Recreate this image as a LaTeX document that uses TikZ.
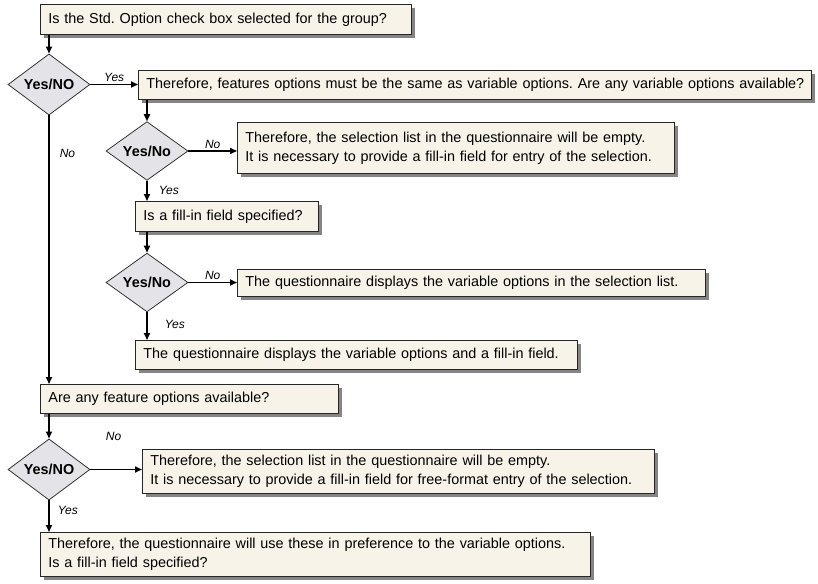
\documentclass[tikz,border=0pt]{standalone}
\usepackage{fontspec}
\setmainfont{Liberation Sans}
\frenchspacing
\usetikzlibrary{shapes,shadows,arrows.meta}

\definecolor{notecream}{HTML}{F7F3E8}
\definecolor{askgray}{HTML}{E4E4E8}
\definecolor{shadowgray}{HTML}{858585}

\begin{document}
\begin{tikzpicture}[x=1pt,y=1pt,
  stepbox/.style={shape=rectangle,draw=black!85,fill=notecream,line width=0.8pt,
    anchor=north west,align=left,inner xsep=8pt,inner ysep=0pt,
    font=\fontsize{14.4}{19}\selectfont,
    drop shadow={shadow xshift=3.5pt,shadow yshift=-3.5pt,fill=shadowgray,opacity=1}},
  ask/.style={shape=diamond,draw=black!80,fill=askgray,line width=0.8pt,
    inner sep=0pt,minimum width=82pt,minimum height=47pt,
    font=\bfseries\fontsize{14.4}{16}\selectfont},
  arr/.style={-{Triangle[length=7pt,width=6pt]},draw=black,line width=1.6pt},
  lbl/.style={font=\itshape\fontsize{12}{14}\selectfont,inner sep=2pt}]
\useasboundingbox (0,0) rectangle (818,-583);

\node[stepbox,text width=355pt,minimum height=30pt] (0) at (40,-4) {Is the Std. Option check box selected for the group?};
\node[ask] (1) at (49,-84.5) {Yes/NO};
\node[stepbox,text width=657pt,minimum height=29pt] (2) at (138,-70) {\mbox{Therefore, features options must be the same as variable options. Are any variable options available?}};
\node[ask] (3) at (147,-151) {Yes/No};
\node[stepbox,text width=421pt,minimum height=51pt] (4) at (237,-122) {Therefore, the selection list in the questionnaire will be empty.\\It is necessary to provide a fill-in field for entry of the selection.};
\node[stepbox,text width=167pt,minimum height=30pt] (5) at (135,-201) {Is a fill-in field specified?};
\node[ask] (6) at (147,-282.5) {Yes/No};
\node[stepbox,text width=452pt,minimum height=27pt] (7) at (237,-269) {The questionnaire displays the variable options in the selection list.};
\node[stepbox,text width=426pt,minimum height=29pt] (8) at (135,-340) {The questionnaire displays the variable options and a fill-in field.};
\node[stepbox,text width=282pt,minimum height=29pt] (9) at (40,-384) {Are any feature options available?};
\node[ask] (10) at (49,-469.5) {Yes/NO};
\node[stepbox,text width=496pt,minimum height=44pt] (11) at (142,-449) {Therefore, the selection list in the questionnaire will be empty.\\It is necessary to provide a fill-in field for free-format entry of the selection.};
\node[stepbox,text width=534pt,minimum height=44pt] (12) at (40,-532) {Therefore, the questionnaire will use these in preference to the variable options.\\Is a fill-in field specified?};

% connectors
\draw [arr] (0.south -| 1) -- (1.north);
\draw [arr] (1.east) -- node[lbl,above] {Yes} (1.east -| 2.west);
\draw [arr] (1.south) -- node[lbl,right=8pt,pos=0.14] {No} (9.north -| 1);
\draw [arr] (2.south -| 3) -- (3.north);
\draw [arr] (3.east) -- node[lbl,above] {No} (3.east -| 4.west);
\draw [arr] (3.south) -- node[lbl,right=9pt] {Yes} (5.north -| 3);
\draw [arr] (5.south -| 6) -- (6.north);
\draw [arr] (6.east) -- node[lbl,above] {No} (6.east -| 7.west);
\draw [arr] (6.south) -- node[lbl,right=15pt,pos=0.45] {Yes} (8.north -| 6);
\draw [arr] (9.south -| 10) -- (10.north);
\draw [arr] (10.east) -- node[lbl,above=26pt,pos=0.45] {No} (10.east -| 11.west);
\draw [arr] (10.south) -- node[lbl,right=6pt,pos=0.3] {Yes} (12.north -| 10);
\end{tikzpicture}
\end{document}
